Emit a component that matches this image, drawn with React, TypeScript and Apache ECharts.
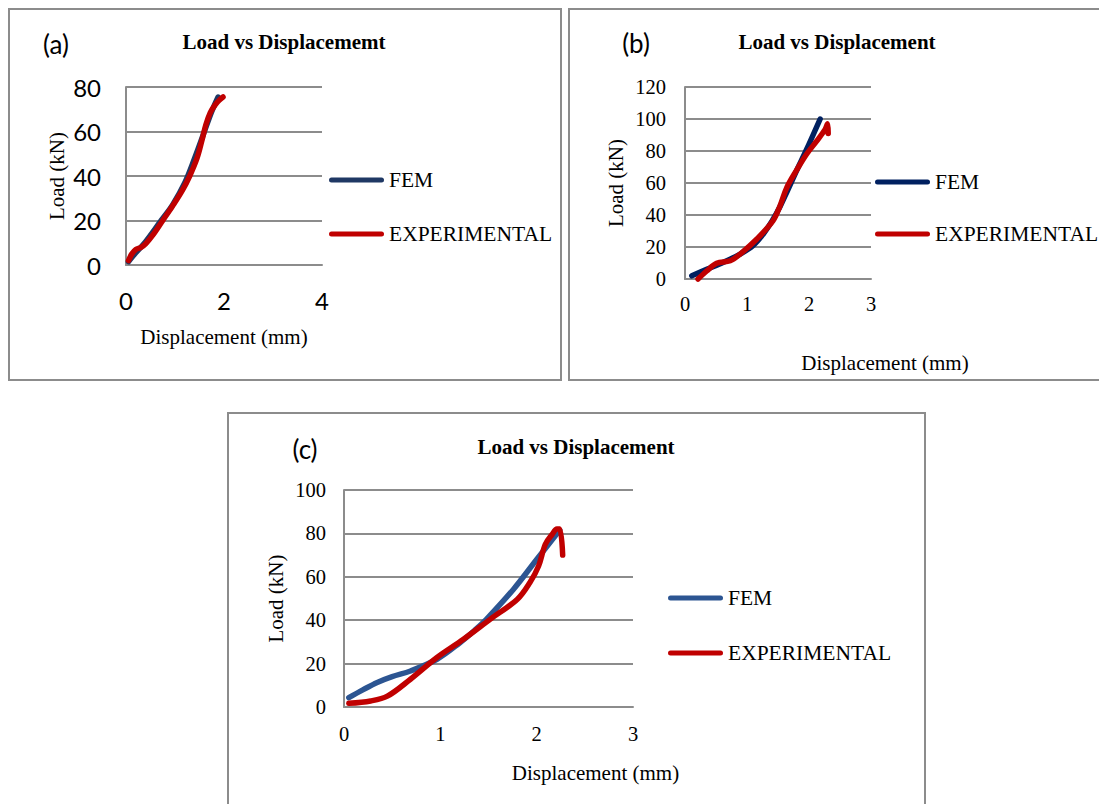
import React, { useEffect, useRef } from 'react';
import * as echarts from 'echarts';

// ---------- Data ----------
const SERIES_NAMES = ['FEM', 'EXPERIMENTAL'];
const TITLES = ['Load vs Displacememt', 'Load vs Displacement', 'Load vs Displacement'];
const PANEL_LABELS = ['(a)', '(b)', '(c)'];
const X_NAME = 'Displacement (mm)';
const Y_NAME = 'Load (kN)';

// axis ranges: [min, max, interval]
const A_X_AXIS = [0, 4, 2];
const A_Y_AXIS = [0, 80, 20];
const B_X_AXIS = [0, 3, 1];
const B_Y_AXIS = [0, 120, 20];
const C_X_AXIS = [0, 3, 1];
const C_Y_AXIS = [0, 100, 20];

// Panel (a)
const A_FEM_X = [0.05, 0.2, 0.4, 0.7, 0.95, 1.2, 1.4, 1.6, 1.75, 1.88];
const A_FEM_Y = [1.5, 5.5, 10.5, 19.5, 27, 37, 48, 60, 69, 75.5];
const A_EXP_X = [0.05, 0.12, 0.2, 0.3, 0.4, 0.55, 0.75, 0.95, 1.15, 1.3, 1.45, 1.55, 1.63, 1.72, 1.82, 1.9, 1.98];
const A_EXP_Y = [2, 5, 7, 7.8, 9.5, 13.5, 20, 26.5, 33.5, 40, 48, 56, 63, 68.5, 72, 74, 75.5];

// Panel (b)
const B_FEM_X = [0.11, 0.35, 0.62, 0.89, 1.1, 1.26, 1.4, 1.53, 1.65, 1.8, 1.95, 2.18];
const B_FEM_Y = [2, 6, 10.4, 15.6, 21, 28, 36, 45, 55, 67.7, 80, 100];
const B_EXP_X = [0.21, 0.35, 0.51, 0.73, 0.89, 1.16, 1.42, 1.53, 1.64, 1.8, 1.96, 2.12, 2.26, 2.3, 2.31];
const B_EXP_Y = [0, 5, 9.8, 11.4, 15.6, 25, 36.4, 45.5, 57, 68, 78, 86, 93.5, 97, 91];

// Panel (c)
const C_FEM_X = [0.05, 0.2, 0.345, 0.5, 0.69, 0.965, 1.2, 1.36, 1.48, 1.76, 2.0, 2.24];
const C_FEM_Y = [4.3, 8, 11.3, 14, 16.6, 22, 29.5, 35.5, 40.5, 54.3, 68, 81.5];
const C_EXP_X = [0.05, 0.276, 0.45, 0.69, 0.965, 1.24, 1.52, 1.8, 1.93, 2.02, 2.09, 2.16, 2.21, 2.24, 2.27];
const C_EXP_Y = [1.7, 2.8, 5, 12.8, 22.8, 31.2, 40.5, 49.7, 57.4, 65, 75, 79.5, 82, 82, 70];

// ---------- Styles ----------
const RED = '#C00000';
const FEM_COLORS = ['#1F3864', '#002060', '#2C5592'];
const GRID_GRAY = '#8c8c8c';
const SERIF = '"Liberation Serif", "Times New Roman", serif';
const SANS = 'Lato, "Open Sans", sans-serif';
const BAR_ICON = 'path://M2.5,0L52.5,0A2.5,2.5,0,0,1,52.5,5L2.5,5A2.5,2.5,0,0,1,2.5,0Z';

const zip = (xs: number[], ys: number[]) => xs.map((x, i) => [x, ys[i]]);

const App: React.FC = () => {
  const ref = useRef<HTMLDivElement>(null);

  useEffect(() => {
    if (!ref.current) return;
    const chart = echarts.init(ref.current, undefined, { renderer: 'svg' });

    const panels = [
      {
        grid: { left: 126, top: 87, width: 196, height: 178 },
        x: A_X_AXIS, y: A_Y_AXIS,
        labelFont: SANS, labelSize: 24, yLabelMargin: 25, xLabelMargin: 23,
        xNameGap: 61, yNameGap: 59, xNamePad: 0,
        fem: zip(A_FEM_X, A_FEM_Y), exp: zip(A_EXP_X, A_EXP_Y),
        legend: { left: 329, top: 169, gap: 32 },
        title: { x: 284, y: 31 },
        label: { x: 56, y: 44 },
      },
      {
        grid: { left: 685, top: 87, width: 186, height: 192 },
        x: B_X_AXIS, y: B_Y_AXIS,
        labelFont: SERIF, labelSize: 20.5, yLabelMargin: 19, xLabelMargin: 14,
        xNameGap: 73, yNameGap: 59, xNamePad: 214,
        fem: zip(B_FEM_X, B_FEM_Y), exp: zip(B_EXP_X, B_EXP_Y),
        legend: { left: 875, top: 171, gap: 30 },
        title: { x: 837, y: 31 },
        label: { x: 636, y: 43 },
      },
      {
        grid: { left: 344, top: 490, width: 289, height: 217 },
        x: C_X_AXIS, y: C_Y_AXIS,
        labelFont: SERIF, labelSize: 20.5, yLabelMargin: 18, xLabelMargin: 16,
        xNameGap: 55, yNameGap: 58, xNamePad: 214,
        fem: zip(C_FEM_X, C_FEM_Y), exp: zip(C_EXP_X, C_EXP_Y),
        legend: { left: 668, top: 587, gap: 33 },
        title: { x: 576, y: 436 },
        label: { x: 305, y: 449 },
      },
    ];

    const option: any = {
      animation: false,
      backgroundColor: '#ffffff',
      title: panels.map((p, i) => ({
        text: TITLES[i],
        left: p.title.x,
        top: p.title.y,
        textAlign: 'center',
        padding: 0,
        textStyle: { fontFamily: SERIF, fontWeight: 'bold', fontSize: 21, color: '#000' },
      })),
      grid: panels.map((p) => ({ ...p.grid, containLabel: false })),
      xAxis: panels.map((p, i) => ({
        type: 'value',
        gridIndex: i,
        min: p.x[0], max: p.x[1], interval: p.x[2],
        name: X_NAME,
        nameLocation: 'middle',
        nameGap: p.xNameGap,
        nameTextStyle: {
          fontFamily: SERIF, fontSize: 21, color: '#000',
          padding: [0, 0, 0, p.xNamePad],
        },
        axisLine: { show: true, onZero: false, lineStyle: { color: GRID_GRAY, width: 2 } },
        axisTick: { show: false },
        splitLine: { show: false },
        axisLabel: { margin: p.xLabelMargin, fontFamily: p.labelFont, fontSize: p.labelSize, color: '#000' },
      })),
      yAxis: panels.map((p, i) => ({
        type: 'value',
        gridIndex: i,
        min: p.y[0], max: p.y[1], interval: p.y[2],
        name: Y_NAME,
        nameLocation: 'middle',
        nameGap: p.yNameGap,
        nameTextStyle: { fontFamily: SERIF, fontSize: 21, color: '#000' },
        axisLine: { show: true, lineStyle: { color: GRID_GRAY, width: 2 } },
        axisTick: { show: false },
        splitLine: { show: true, lineStyle: { color: GRID_GRAY, width: 2 } },
        axisLabel: { margin: p.yLabelMargin, fontFamily: p.labelFont, fontSize: p.labelSize, color: '#000' },
      })),
      legend: panels.map((p, i) => ({
        orient: 'vertical',
        left: p.legend.left,
        top: p.legend.top,
        padding: 0,
        itemGap: p.legend.gap,
        itemWidth: 55,
        itemHeight: 5,
        icon: BAR_ICON,
        selectedMode: false,
        textStyle: { fontFamily: SERIF, fontSize: 21.5, color: '#000' },
        data: [
          { name: SERIES_NAMES[0], itemStyle: { color: FEM_COLORS[i] } },
          { name: SERIES_NAMES[1], itemStyle: { color: RED } },
        ],
      })),
      series: panels.flatMap((p, i) => [
        {
          type: 'line',
          name: SERIES_NAMES[0],
          xAxisIndex: i, yAxisIndex: i,
          data: p.fem,
          smooth: 0.35,
          symbol: 'none',
          clip: false,
          itemStyle: { color: FEM_COLORS[i] },
          lineStyle: { color: FEM_COLORS[i], width: 5.5, cap: 'round', join: 'round' },
        },
        {
          type: 'line',
          name: SERIES_NAMES[1],
          xAxisIndex: i, yAxisIndex: i,
          data: p.exp,
          smooth: 0.35,
          symbol: 'none',
          clip: false,
          itemStyle: { color: RED },
          lineStyle: { color: RED, width: 5.5, cap: 'round', join: 'round' },
        },
      ]),
      graphic: [
        { type: 'rect', shape: { x: 9, y: 9, width: 552, height: 371 }, style: { fill: 'none', stroke: GRID_GRAY, lineWidth: 2 } },
        { type: 'rect', shape: { x: 569, y: 9, width: 560, height: 371 }, style: { fill: 'none', stroke: GRID_GRAY, lineWidth: 2 } },
        { type: 'rect', shape: { x: 228, y: 413, width: 697, height: 420 }, style: { fill: 'none', stroke: GRID_GRAY, lineWidth: 2 } },
        ...panels.map((p, i) => ({
          type: 'text',
          x: p.label.x,
          y: p.label.y,
          style: {
            text: PANEL_LABELS[i],
            font: `26px ${SANS}`,
            fill: '#000',
            align: 'center',
            verticalAlign: 'middle',
          },
        })),
      ],
    };

    chart.setOption(option);
    return () => chart.dispose();
  }, []);

  return (
    <div
      ref={ref}
      style={{ position: 'absolute', left: 0, top: 0, width: 1099, height: 804, background: '#fff' }}
    />
  );
};

export default App;
